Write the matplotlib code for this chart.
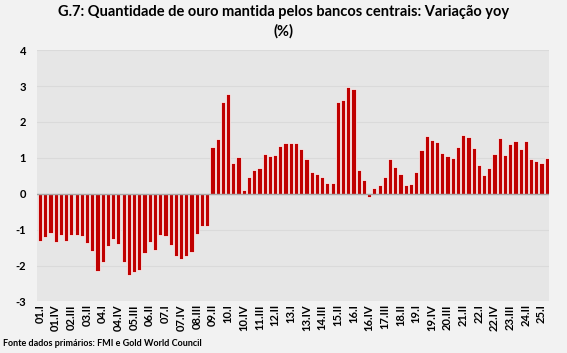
import matplotlib
matplotlib.use("Agg")
import matplotlib.pyplot as plt
import numpy as np

plt.rcParams['font.family'] = ['Lato', 'DejaVu Sans']

years = list(range(1, 26))
quarters = ["I", "II", "III", "IV"]
periods = [f"{y:02d}.{q}" for y in years for q in quarters][:98]

values = [
    -1.32, -1.21, -1.08, -1.34, -1.15, -1.31, -1.16, -1.16, -1.18, -1.38,
    -1.60, -2.16, -1.89, -1.46, -1.26, -1.40, -1.91, -2.25, -2.18, -2.13,
    -1.66, -1.35, -1.56, -1.16, -1.17, -1.43, -1.74, -1.81, -1.74, -1.61,
    -1.12, -0.89, -0.89,
    1.31, 1.52, 2.55, 2.79, 0.85, 1.01, 0.11, 0.47, 0.65, 0.71,
    1.11, 1.05, 1.09, 1.34, 1.42, 1.42, 1.41, 1.26, 0.97, 0.60,
    0.54, 0.48, 0.29, 0.30, 2.55, 2.62, 2.96, 2.92, 0.65, 0.38,
    -0.08, 0.16, 0.25, 0.47, 0.96, 0.75, 0.56, 0.24, 0.28, 0.60,
    1.21, 1.62, 1.49, 1.44, 1.13, 1.06, 1.00, 1.30, 1.63, 1.57,
    1.28, 0.80, 0.52, 0.72, 1.11, 1.56, 1.08, 1.38, 1.47, 1.24,
    1.47, 0.96, 0.90, 0.87, 1.00,
]

title = "G.7: Quantidade de ouro mantida pelos bancos centrais: Variação yoy\n(%)"
source = "Fonte dados primários: FMI e Gold World Council"

fig = plt.figure(figsize=(5.67, 3.53), dpi=100, facecolor="#f2f2f2")
ax = fig.add_axes([0.066, 0.146, 0.903, 0.712])
ax.set_facecolor("#e6e6e6")

x = np.arange(len(values))
ax.bar(x, values, width=0.8, color="#c00000", edgecolor="#ffffff", linewidth=0.5, zorder=3)
ax.axhline(0, color="#a6a6a6", linewidth=1.0, zorder=4)

ax.set_ylim(-3, 4)
ax.set_xlim(-0.5, len(values) - 0.5)
ax.set_yticks(range(-3, 5))
ax.set_yticklabels([str(v) for v in range(-3, 5)], fontsize=8, fontweight="bold")
ax.yaxis.grid(True, color="#dadada", linewidth=0.8, zorder=0)
ax.set_axisbelow(True)

ax.set_xticks(x[::3])
ax.set_xticklabels(periods[::3], rotation=90, fontsize=8, fontweight="bold")
ax.tick_params(axis="both", length=0, pad=2)
ax.tick_params(axis="y", pad=8)
for s in ax.spines.values():
    s.set_visible(False)

fig.text(0.5, 0.985, title, ha="center", va="top", fontsize=10.5, fontweight="bold",
         linespacing=1.45)
fig.text(0.005, 0.028, source, ha="left", va="center", fontsize=6.5, fontweight="bold")

fig.savefig("out.png", dpi=100, facecolor=fig.get_facecolor())
